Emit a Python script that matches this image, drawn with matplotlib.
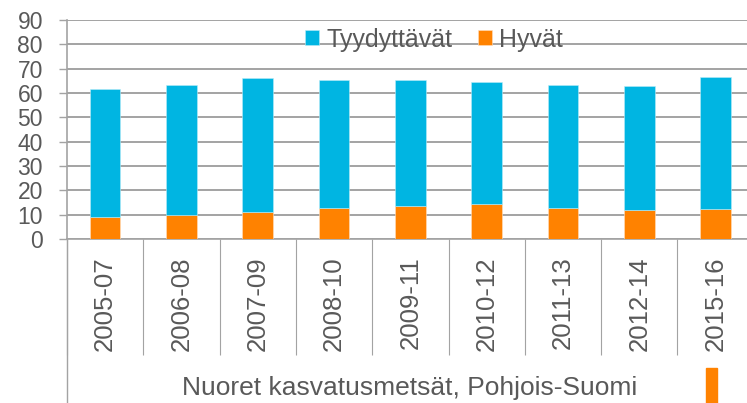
import matplotlib
matplotlib.use("Agg")
import matplotlib.pyplot as plt
from matplotlib.lines import Line2D
from matplotlib.patches import Rectangle
import numpy as np

plt.rcParams['font.family'] = ['Liberation Sans', 'DejaVu Sans']

categories = ["2005-07", "2006-08", "2007-09", "2008-10", "2009-11",
              "2010-12", "2011-13", "2012-14", "2015-16"]
hyvat = [9.2, 10.0, 11.0, 12.6, 13.4, 14.4, 12.7, 11.9, 12.3]
tyydyttavat = [52.4, 53.4, 55.3, 52.8, 52.0, 50.0, 50.6, 51.0, 54.4]
series_labels = ["Tyydyttävät", "Hyvät"]
yticks = [0, 10, 20, 30, 40, 50, 60, 70, 80, 90]
xlabel_text = "Nuoret kasvatusmetsät, Pohjois-Suomi"

BLUE = "#00B5E2"
ORANGE = "#FF8200"
GRID = "#A3A3A3"
TEXT = "#595959"

W, H = 747, 403
fig = plt.figure(figsize=(W / 100, H / 100), dpi=100)

left_px, right_px = 67, 753.7
top_px, bottom_px = 20, 239
ax = fig.add_axes([left_px / W, 1 - bottom_px / H,
                   (right_px - left_px) / W, (bottom_px - top_px) / H])

x = np.arange(len(categories))
ax.bar(x, hyvat, width=0.4, color=ORANGE, label=series_labels[1], zorder=3,
       edgecolor="#FFE0C0", linewidth=0.4)
ax.bar(x, tyydyttavat, width=0.4, bottom=hyvat, color=BLUE,
       label=series_labels[0], zorder=3, edgecolor="#B8ECF8", linewidth=0.4)

ax.set_xlim(-0.5, len(categories) - 0.5)
ax.set_ylim(0, 90)
ax.set_yticks(yticks)
ax.set_yticklabels([str(v) for v in yticks])
ax.yaxis.grid(True, color=GRID, linewidth=1.4)
ax.set_axisbelow(True)

ax.set_xticks(x)
ax.set_xticklabels(categories, rotation=90, ha='center', va='top')
ax.set_xticks(np.arange(-0.5, len(categories), 1.0), minor=True)
ax.tick_params(axis='x', which='major', length=0, pad=12.7,
               labelsize=18.5, labelcolor=TEXT)
ax.tick_params(axis='x', which='minor', length=83.5, width=0.8,
               color=GRID, direction='out')
ax.tick_params(axis='y', which='major', length=5.8, width=1.0, color=GRID,
               direction='out', pad=11.5, labelsize=16.5, labelcolor=TEXT)

for s in ['top', 'right']:
    ax.spines[s].set_visible(False)
for s in ['left', 'bottom']:
    ax.spines[s].set_color(GRID)
    ax.spines[s].set_linewidth(1.2)

# left divider line extending to the bottom of the figure
fig.add_artist(Line2D([left_px / W, left_px / W], [0, 1 - bottom_px / H],
                      transform=fig.transFigure, color=GRID, linewidth=1.0))

handles, labels = ax.get_legend_handles_labels()
order = [1, 0]
leg = fig.legend([handles[i] for i in order], [labels[i] for i in order],
                 loc='center', bbox_to_anchor=(434 / W, 1 - 39.5 / H),
                 bbox_transform=fig.transFigure, ncol=2, frameon=False,
                 fontsize=18, handlelength=0.56, handleheight=0.56,
                 handletextpad=0.3, columnspacing=1.0, borderpad=0,
                 borderaxespad=0)
for t in leg.get_texts():
    t.set_color(TEXT)

fig.text(410 / W, 1 - 395 / H, xlabel_text, ha='center', va='baseline',
         fontsize=19, color=TEXT)

# fragment of an adjacent legend marker at the bottom right
fig.add_artist(Rectangle((706 / W, 0), 11.3 / W, (403 - 367.7) / H,
                         transform=fig.transFigure, color=ORANGE))

fig.savefig("out.png", dpi=100)
